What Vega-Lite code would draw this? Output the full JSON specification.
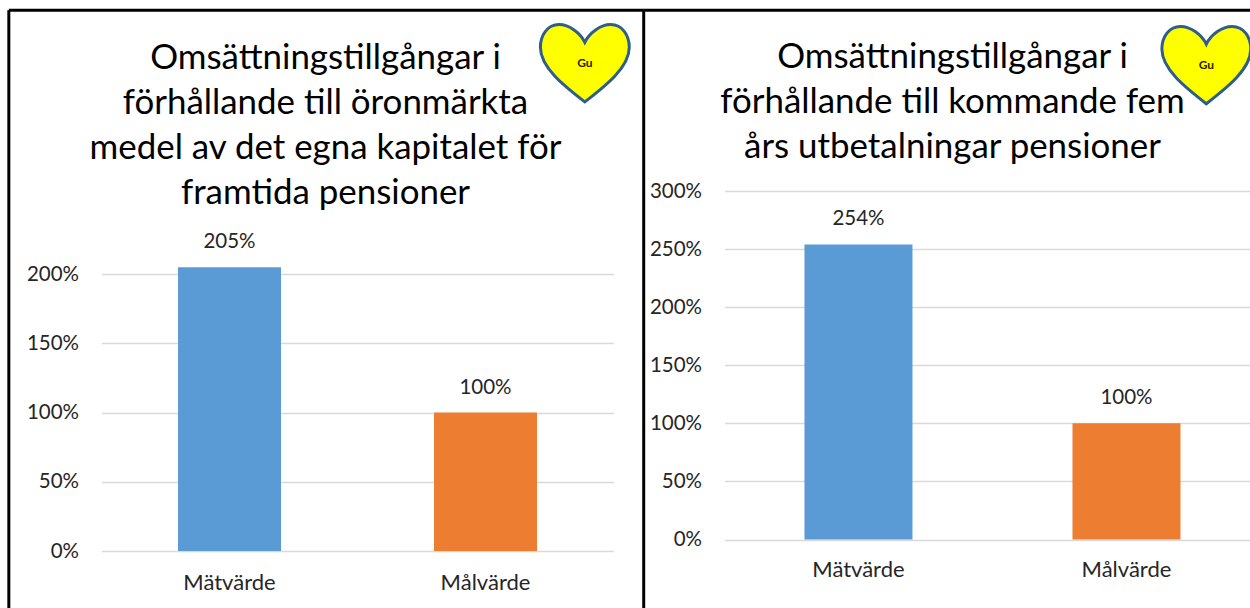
{"$schema":"https://vega.github.io/schema/vega-lite/v6.json","autosize":{"type":"pad"},"padding":{"left":6.5,"top":8,"right":0,"bottom":0},"background":"white","bounds":"flush","spacing":111,"config":{"view":{"stroke":null},"font":"Lato","axis":{"labelFont":"Lato","labelFontSize":20.5,"labelColor":"#262626","ticks":false,"domain":false},"title":{"font":"Lato","fontSize":34.9,"fontWeight":"normal","color":"#000000","lineHeight":45}},"hconcat":[{"width":512,"height":360,"title":{"text":["Omsättningstillgångar i","förhållande till öronmärkta","medel av det egna kapitalet för","framtida pensioner"],"anchor":"middle","dx":-32,"offset":-202},"resolve":{"scale":{"x":"independent"}},"layer":[{"data":{"values":[{"kategori":"Mätvärde","varde":2.05},{"kategori":"Målvärde","varde":1}]},"mark":{"type":"bar","size":103},"encoding":{"x":{"field":"kategori","type":"nominal","sort":null,"title":null,"scale":{"type":"band","paddingInner":0.6,"paddingOuter":0.3},"axis":{"labelAngle":0,"labelPadding":21,"labelFontSize":22,"grid":false}},"y":{"field":"varde","type":"quantitative","title":null,"scale":{"domain":[0,2.6],"nice":false},"axis":{"values":[0,0.5,1,1.5,2],"format":".0%","labelPadding":23,"grid":true,"gridColor":"#d9d9d9","gridWidth":1.5}},"color":{"field":"kategori","type":"nominal","legend":null,"scale":{"domain":["Mätvärde","Målvärde"],"range":["#5b9bd5","#ed7d31"]}}}},{"data":{"values":[{"kategori":"Mätvärde","varde":2.05},{"kategori":"Målvärde","varde":1}]},"mark":{"type":"text","fontSize":20.5,"color":"#262626","baseline":"middle","dy":-25},"encoding":{"x":{"field":"kategori","type":"nominal","sort":null,"axis":null,"scale":{"type":"band","paddingInner":0.6,"paddingOuter":0.3}},"y":{"field":"varde","type":"quantitative"},"text":{"field":"varde","type":"quantitative","format":".0%"}}},{"data":{"values":[{"del":"ram"}]},"mark":{"type":"rule","color":"black","strokeWidth":3,"clip":false},"encoding":{"x":{"datum":-18.1,"type":"quantitative","axis":null,"scale":{"domain":[0,100],"nice":false}},"y":{"datum":3.906},"y2":{"datum":-0.4115}}},{"data":{"values":[{"del":"ram"}]},"mark":{"type":"rule","color":"black","strokeWidth":3,"clip":false},"encoding":{"x":{"datum":105.9,"type":"quantitative","axis":null,"scale":{"domain":[0,100],"nice":false}},"y":{"datum":3.906},"y2":{"datum":-0.4115}}},{"data":{"values":[{"del":"ram"}]},"mark":{"type":"rule","color":"black","strokeWidth":3,"clip":false},"encoding":{"x":{"datum":-18.1,"type":"quantitative","axis":null,"scale":{"domain":[0,100],"nice":false}},"x2":{"datum":105.9},"y":{"datum":3.906}}},{"data":{"values":[{"del":"hjärta"}]},"mark":{"type":"point","filled":true,"fill":"#ffff00","opacity":1,"stroke":"#2f5d8c","strokeWidth":3,"size":7900,"clip":false,"shape":"M0,-0.47 C-0.1,-0.68 -0.35,-0.87 -0.58,-0.87 C-0.85,-0.87 -1,-0.62 -1,-0.36 C-1,0.1 -0.45,0.52 0,0.87 C0.45,0.52 1,0.1 1,-0.36 C1,-0.62 0.85,-0.87 0.58,-0.87 C0.35,-0.87 0.1,-0.68 0,-0.47 Z"},"encoding":{"x":{"datum":94.4,"type":"quantitative","axis":null,"scale":{"domain":[0,100],"nice":false}},"y":{"datum":3.523}}},{"data":{"values":[{"etikett":"Gu"}]},"mark":{"type":"text","fontSize":12,"fontWeight":"bold","color":"#2b2300","clip":false},"encoding":{"x":{"datum":94.4,"type":"quantitative","axis":null,"scale":{"domain":[0,100],"nice":false}},"y":{"datum":3.523},"text":{"field":"etikett"}}}]},{"width":526,"height":348.5,"title":{"text":["Omsättningstillgångar i","förhållande till kommande fem","års utbetalningar pensioner"],"anchor":"middle","dx":-35,"offset":-156.5},"resolve":{"scale":{"x":"independent"}},"layer":[{"data":{"values":[{"kategori":"Mätvärde","varde":2.54},{"kategori":"Målvärde","varde":1}]},"mark":{"type":"bar","size":108},"encoding":{"x":{"field":"kategori","type":"nominal","sort":null,"title":null,"scale":{"type":"band","paddingInner":0.6,"paddingOuter":0.2813,"align":0.533},"axis":{"labelAngle":0,"labelPadding":20,"labelFontSize":22,"grid":false}},"y":{"field":"varde","type":"quantitative","title":null,"scale":{"domain":[0,3],"nice":false},"axis":{"values":[0,0.5,1,1.5,2,2.5,3],"format":".0%","labelPadding":23,"grid":true,"gridColor":"#d9d9d9","gridWidth":1.5}},"color":{"field":"kategori","type":"nominal","legend":null,"scale":{"domain":["Mätvärde","Målvärde"],"range":["#5b9bd5","#ed7d31"]}}}},{"data":{"values":[{"kategori":"Mätvärde","varde":2.54},{"kategori":"Målvärde","varde":1}]},"mark":{"type":"text","fontSize":20.5,"color":"#262626","baseline":"middle","dy":-25},"encoding":{"x":{"field":"kategori","type":"nominal","sort":null,"axis":null,"scale":{"type":"band","paddingInner":0.6,"paddingOuter":0.2813,"align":0.533}},"y":{"field":"varde","type":"quantitative"},"text":{"field":"varde","type":"quantitative","format":".0%"}}},{"data":{"values":[{"del":"ram"}]},"mark":{"type":"rule","color":"black","strokeWidth":3,"clip":false},"encoding":{"x":{"datum":-15.4,"type":"quantitative","axis":null,"scale":{"domain":[0,100],"nice":false}},"x2":{"datum":100},"y":{"datum":4.557}}},{"data":{"values":[{"del":"hjärta"}]},"mark":{"type":"point","filled":true,"fill":"#ffff00","opacity":1,"stroke":"#2f5d8c","strokeWidth":3,"size":7900,"clip":false,"shape":"M0,-0.47 C-0.1,-0.68 -0.35,-0.87 -0.58,-0.87 C-0.85,-0.87 -1,-0.62 -1,-0.36 C-1,0.1 -0.45,0.52 0,0.87 C0.45,0.52 1,0.1 1,-0.36 C1,-0.62 0.85,-0.87 0.58,-0.87 C0.35,-0.87 0.1,-0.68 0,-0.47 Z"},"encoding":{"x":{"datum":91.6,"type":"quantitative","axis":null,"scale":{"domain":[0,100],"nice":false}},"y":{"datum":4.084}}},{"data":{"values":[{"etikett":"Gu"}]},"mark":{"type":"text","fontSize":12,"fontWeight":"bold","color":"#2b2300","clip":false},"encoding":{"x":{"datum":91.6,"type":"quantitative","axis":null,"scale":{"domain":[0,100],"nice":false}},"y":{"datum":4.084},"text":{"field":"etikett"}}}]}]}
